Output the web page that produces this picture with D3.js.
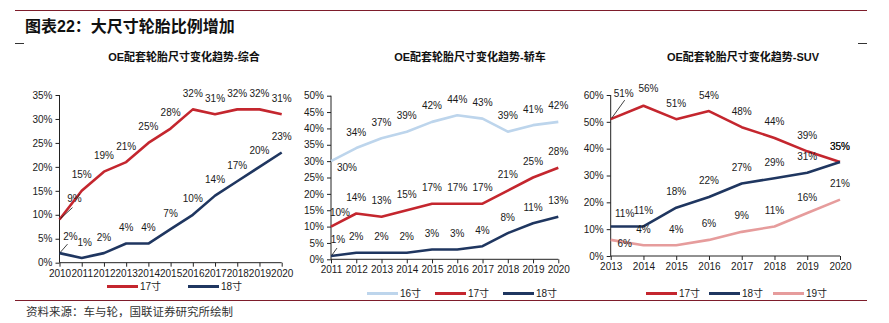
<!DOCTYPE html>
<html>
<head>
<meta charset="utf-8">
<script src="https://cdn.jsdelivr.net/npm/d3@7"></script>
<style>
  html, body { margin: 0; padding: 0; background: #fff; }
  svg { display: block; }
  text { font-family: "Liberation Sans", Arial, "Noto Sans CJK SC", sans-serif; }
</style>
</head>
<body>
<svg id="chart" width="889" height="323"></svg>
<script>
// ---- data ----
const years1 = ["2010","2011","2012","2013","2014","2015","2016","2017","2018","2019","2020"];
const all17 = [9, 15, 19, 21, 25, 28, 32, 31, 32, 32, 31];
const all18 = [2, 1, 2, 4, 4, 7, 10, 14, 17, 20, 23];
const yTicks1 = [0, 5, 10, 15, 20, 25, 30, 35];

const years2 = ["2011","2012","2013","2014","2015","2016","2017","2018","2019","2020"];
const car16 = [30, 34, 37, 39, 42, 44, 43, 39, 41, 42];
const car17 = [10, 14, 13, 15, 17, 17, 17, 21, 25, 28];
const car18 = [1, 2, 2, 2, 3, 3, 4, 8, 11, 13];
const yTicks2 = [0, 5, 10, 15, 20, 25, 30, 35, 40, 45, 50];

const years3 = ["2013","2014","2015","2016","2017","2018","2019","2020"];
const suv17 = [51, 56, 51, 54, 48, 44, 39, 35];
const suv18 = [11, 11, 18, 22, 27, 29, 31, 35];
const suv19 = [6, 4, 4, 6, 9, 11, 16, 21];
const yTicks3 = [0, 10, 20, 30, 40, 50, 60];

const sizeNames = { s16: "16寸", s17: "17寸", s18: "18寸", s19: "19寸" };

// ---- styling ----
const colors = { s16: "#BDD5EC", s17: "#C4262E", s18: "#1F3660", s19: "#E69C9C" };
const frameColor = "#7E1D2B";
const textColor = "#1a1a1a";

const svg = d3.select("#chart");

// page frame: rule lines, heading and source note
svg.append("line").attr("x1", 15).attr("x2", 867).attr("y1", 10.5).attr("y2", 10.5)
  .attr("stroke", frameColor).attr("stroke-width", 1.2);
svg.append("line").attr("x1", 15).attr("x2", 24).attr("y1", 43.5).attr("y2", 43.5)
  .attr("stroke", "#333").attr("stroke-width", 1);
svg.append("line").attr("x1", 858).attr("x2", 867).attr("y1", 43.5).attr("y2", 43.5)
  .attr("stroke", "#333").attr("stroke-width", 1);
svg.append("text").attr("x", 25).attr("y", 32)
  .attr("font-family", "'Noto Sans CJK SC', sans-serif")
  .attr("font-size", 16).attr("font-weight", 700).attr("fill", "#111")
  .text("图表22：大尺寸轮胎比例增加");
svg.append("line").attr("x1", 15).attr("x2", 867).attr("y1", 300.5).attr("y2", 300.5)
  .attr("stroke", frameColor).attr("stroke-width", 1.2);
svg.append("text").attr("x", 26).attr("y", 316)
  .attr("font-family", "'Noto Sans CJK SC', sans-serif")
  .attr("font-size", 11.5).attr("fill", "#333")
  .text("资料来源：车与轮，国联证券研究所绘制");

function drawPanel(cfg) {
  const g = svg.append("g");
  const x = d3.scalePoint().domain(cfg.years).range([cfg.left, cfg.right]);
  const y = d3.scaleLinear().domain([0, d3.max(cfg.yTicks)]).range([cfg.bottom, cfg.top]);

  // panel title
  g.append("text").attr("x", cfg.titleX).attr("y", 61).attr("text-anchor", "middle")
    .attr("font-size", 11).attr("font-weight", 700).attr("fill", "#111")
    .text(cfg.title);

  // axes
  const yAxis = d3.axisLeft(y).tickValues(cfg.yTicks).tickSize(4).tickPadding(3)
    .tickFormat(d => d + "%");
  const gy = g.append("g").attr("transform", `translate(${cfg.left},0)`).call(yAxis);
  const xAxis = d3.axisBottom(x).tickSize(4).tickPadding(3);
  const gx = g.append("g").attr("transform", `translate(0,${cfg.bottom})`).call(xAxis);
  [gy, gx].forEach(a => {
    a.select(".domain").attr("stroke", "#222").attr("stroke-width", 1);
    a.selectAll(".tick line").attr("stroke", "#222");
    a.selectAll("text").attr("font-size", 10).attr("fill", textColor)
      .attr("font-family", "'Liberation Sans', Arial, sans-serif");
  });
  gy.select(".domain").attr("d", `M-0,${cfg.bottom}V${cfg.top}`);
  gx.select(".domain").attr("d", `M${cfg.left},0H${cfg.right}`);

  const line = d3.line().x((d, i) => x(cfg.years[i])).y(d => y(d));

  cfg.series.forEach(s => {
    g.append("path").datum(s.values).attr("d", line)
      .attr("fill", "none").attr("stroke", colors[s.key]).attr("stroke-width", 2.6)
      .attr("stroke-linejoin", "round");
  });

  // value labels, centred above each point unless an offset is given
  cfg.series.forEach(s => {
    s.values.forEach((v, i) => {
      const px = x(cfg.years[i]), py = y(v);
      const off = (cfg.labelOffsets[s.key + "|" + i]) || [0, -16];
      const lx = px + off[0], ly = py + off[1];
      if (cfg.leaders[s.key + "|" + i]) {
        const L = cfg.leaders[s.key + "|" + i];
        g.append("line").attr("x1", px + 1).attr("y1", py - 1)
          .attr("x2", px + L[0]).attr("y2", py + L[1])
          .attr("stroke", "#111").attr("stroke-width", 0.8);
      }
      g.append("text").attr("x", lx).attr("y", ly).attr("dy", "0.35em")
        .attr("text-anchor", "middle").attr("font-size", 10).attr("fill", textColor)
        .text(v + "%");
    });
  });

  // legend
  cfg.legend.forEach(item => {
    g.append("line").attr("x1", item.x).attr("x2", item.x + 31)
      .attr("y1", cfg.legendY).attr("y2", cfg.legendY)
      .attr("stroke", colors[item.key]).attr("stroke-width", 3);
    g.append("text").attr("x", item.x + 33).attr("y", cfg.legendY).attr("dy", "0.35em")
      .attr("font-size", 10).attr("fill", textColor)
      .text(sizeNames[item.key]);
  });
}

drawPanel({
  title: "OE配套轮胎尺寸变化趋势-综合", titleX: 184,
  years: years1, yTicks: yTicks1,
  left: 59.5, right: 281.7, top: 95, bottom: 262.7,
  series: [{ key: "s17", values: all17 }, { key: "s18", values: all18 }],
  labelOffsets: { "s17|0": [15, -21], "s18|0": [11, -17], "s18|1": [3, -15] },
  leaders: { "s17|0": [13, -12], "s18|0": [8, -9] },
  legend: [{ key: "s17", x: 107 }, { key: "s18", x: 188 }], legendY: 286.5
});

drawPanel({
  title: "OE配套轮胎尺寸变化趋势-轿车", titleX: 470,
  years: years2, yTicks: yTicks2,
  left: 331, right: 558.3, top: 95.7, bottom: 259.3,
  series: [{ key: "s16", values: car16 }, { key: "s17", values: car17 }, { key: "s18", values: car18 }],
  labelOffsets: { "s16|0": [16, 6], "s17|0": [9, -14], "s18|0": [7, -17] },
  leaders: { "s18|0": [6, -8] },
  legend: [{ key: "s16", x: 367 }, { key: "s17", x: 435 }, { key: "s18", x: 503 }], legendY: 293.5
});

drawPanel({
  title: "OE配套轮胎尺寸变化趋势-SUV", titleX: 743,
  years: years3, yTicks: yTicks3,
  left: 610.7, right: 840, top: 95, bottom: 256,
  series: [{ key: "s17", values: suv17 }, { key: "s18", values: suv18 }, { key: "s19", values: suv19 }],
  labelOffsets: { "s17|0": [13, -26], "s17|1": [5, -17], "s18|0": [14, -13], "s19|0": [14, 3.5] },
  leaders: { "s17|0": [14, -19] },
  legend: [{ key: "s17", x: 646 }, { key: "s18", x: 709 }, { key: "s19", x: 773 }], legendY: 293.5
});
</script>
</body>
</html>
